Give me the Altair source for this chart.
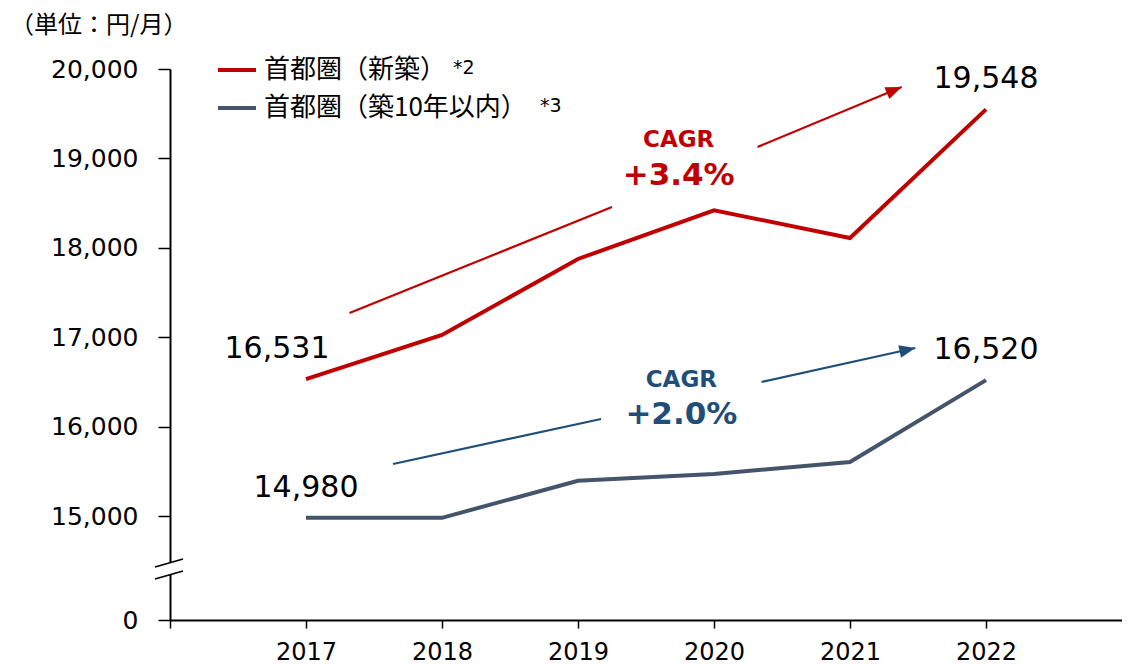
import math
import altair as alt
import pandas as pd

# ---------------- data ----------------
years = [2017, 2018, 2019, 2020, 2021, 2022]
new_build = [16531, 17025, 17875, 18420, 18110, 19548]
within_10y = [14980, 14980, 15395, 15470, 15605, 16520]
series = ["首都圏（新築）", "首都圏（築10年以内）"]
notes = ["*2", "*3"]
line_colors = ["#C00000", "#44546A"]
accent_colors = ["#C00000", "#1F4E79"]
cagr_title = "CAGR"
cagr_values = ["+3.4%", "+2.0%"]
unit_text = "（単位：円/月）"
y_tick_values = [13837, 15000, 16000, 17000, 18000, 19000, 20000]
x_tick_values = [2016, 2017, 2018, 2019, 2020, 2021, 2022]

# CAGR arrows (start, gap start, gap end, tip) in data coordinates
arrow_x = [[2017.32, 2019.25, 2020.32, 2021.38],
           [2017.64, 2019.17, 2020.35, 2021.48]]
arrow_y = [[17271, 18456, 19128, 19799],
           [15582, 16085, 16499, 16879]]
cagr_x = [2019.74, 2019.76]
cagr_title_y = [19128, 16443]
cagr_value_y = [18702, 16029]

# ---------------- layout ----------------
W, H = 952, 551
X_DOMAIN = [2016, 2023]
Y_DOMAIN = [13837, 20000]
NUM_FONT = "DejaVu Sans"
JP_FONT = "Noto Sans CJK JP"
ARROW_PATH = "M0,0L-1,-0.4L-1,0.4Z"

xs = alt.Scale(domain=X_DOMAIN, nice=False, zero=False)
ys = alt.Scale(domain=Y_DOMAIN, nice=False, zero=False)

x_axis = alt.Axis(values=x_tick_values, format="d",
                  labelExpr="datum.value == 2016 ? '' : datum.label",
                  title=None, grid=False, domainColor="black", domainWidth=2,
                  tickColor="black", tickWidth=1.5, tickSize=8,
                  labelFont=NUM_FONT, labelFontSize=24, labelColor="black",
                  labelPadding=12, labelFlush=False, labelOverlap=False)
y_axis = alt.Axis(values=y_tick_values, format=",d",
                  labelExpr="datum.value < 14000 ? '0' : datum.label",
                  title=None, grid=False, domainColor="black", domainWidth=2,
                  tickColor="black", tickWidth=1.5, tickSize=12,
                  labelFont=NUM_FONT, labelFontSize=25, labelColor="black",
                  labelPadding=20, labelOverlap=False)


def X(field):
    return alt.X(field, scale=xs, title=None)


def Y(field):
    return alt.Y(field, scale=ys, title=None)


rows = []
for s, vals in zip(series, [new_build, within_10y]):
    for yr, v in zip(years, vals):
        rows.append({"year": yr, "value": v, "series": s})
df = pd.DataFrame(rows)

lines = alt.Chart(df).mark_line(strokeWidth=4, strokeJoin="miter").encode(
    x=alt.X("year:Q", scale=xs, axis=x_axis),
    y=alt.Y("value:Q", scale=ys, axis=y_axis),
    color=alt.Color("series:N", scale=alt.Scale(domain=series, range=line_colors), legend=None),
)

# endpoint labels
first_last = df[df["year"].isin([years[0], years[-1]])].copy()
first_last["key"] = first_last["series"] + "_" + first_last["year"].astype(str)
shift_key = series[0] + "_" + str(years[0])
label_base = alt.Chart(first_last).encode(
    x=X("year:Q"), y=Y("value:Q"),
    text=alt.Text("value:Q", format=","),
)
labels_plain = label_base.transform_filter(alt.datum.key != shift_key).mark_text(
    font=NUM_FONT, fontSize=30, color="black", align="center", baseline="alphabetic", dy=-21)
labels_shift = label_base.transform_filter(alt.datum.key == shift_key).mark_text(
    font=NUM_FONT, fontSize=30, color="black", align="center", baseline="alphabetic", dy=-21, dx=-29)

layers = [lines, labels_plain, labels_shift]

ppx = W / (X_DOMAIN[1] - X_DOMAIN[0])
ppy = H / (Y_DOMAIN[1] - Y_DOMAIN[0])

for i in range(2):
    ax, ay = arrow_x[i], arrow_y[i]
    c = accent_colors[i]
    seg = pd.DataFrame({"x": [ax[0], ax[2]], "y": [ay[0], ay[2]],
                        "x2": [ax[1], ax[3]], "y2": [ay[1], ay[3]]})
    layers.append(alt.Chart(seg).mark_rule(color=c, strokeWidth=2.2).encode(
        x=X("x:Q"), y=Y("y:Q"), x2="x2:Q", y2="y2:Q"))
    ang = math.degrees(math.atan2(-(ay[3] - ay[2]) * ppy, (ax[3] - ax[2]) * ppx)) % 360
    tip = pd.DataFrame({"x": [ax[3]], "y": [ay[3]]})
    layers.append(alt.Chart(tip).mark_point(shape=ARROW_PATH, filled=True, size=1024,
                                            opacity=1, color=c, strokeWidth=0, angle=ang).encode(
        x=X("x:Q"), y=Y("y:Q")))
    t = pd.DataFrame({"x": [cagr_x[i], cagr_x[i]], "y": [cagr_title_y[i], cagr_value_y[i]],
                      "t": [cagr_title, cagr_values[i]], "k": ["title", "value"]})
    tb = alt.Chart(t).encode(x=X("x:Q"), y=Y("y:Q"), text="t:N")
    layers.append(tb.transform_filter(alt.datum.k == "title").mark_text(
        font=NUM_FONT, fontWeight="bold", fontSize=23, color=c, align="center", baseline="alphabetic"))
    layers.append(tb.transform_filter(alt.datum.k == "value").mark_text(
        font=NUM_FONT, fontWeight="bold", fontSize=31, color=c, align="center", baseline="alphabetic"))

# legend (manual)
legend_y = [1, 39]
note_x = [283, 370]
for i in range(2):
    one = pd.DataFrame({"t": [series[i]], "n": [notes[i]]})
    layers.append(alt.Chart(one).mark_rule(color=line_colors[i], strokeWidth=4).encode(
        x=alt.value(48), x2=alt.value(86), y=alt.value(legend_y[i])))
    layers.append(alt.Chart(one).mark_text(font=JP_FONT, fontSize=26, color="black",
                                           align="left", baseline="middle").encode(
        x=alt.value(94), y=alt.value(legend_y[i]), text="t:N"))
    layers.append(alt.Chart(one).mark_text(font=NUM_FONT, fontSize=19, color="black",
                                           align="left", baseline="middle").encode(
        x=alt.value(note_x[i]), y=alt.value(legend_y[i] - 2), text="n:N"))

# unit label
unit_df = pd.DataFrame({"t": [unit_text]})
layers.append(alt.Chart(unit_df).mark_text(font=JP_FONT, fontSize=24, color="black",
                                           align="left", baseline="middle").encode(
    x=alt.value(-160), y=alt.value(-43), text="t:N"))

# axis break
brk = pd.DataFrame({"a": [0]})
layers.append(alt.Chart(brk).mark_rule(color="white", strokeWidth=8).encode(
    x=alt.value(0), y=alt.value(494), y2=alt.value(506)))
layers.append(alt.Chart(brk).mark_rule(color="black", strokeWidth=1.6).encode(
    x=alt.value(-15), x2=alt.value(13), y=alt.value(498), y2=alt.value(490)))
layers.append(alt.Chart(brk).mark_rule(color="black", strokeWidth=1.6).encode(
    x=alt.value(-15), x2=alt.value(13), y=alt.value(510), y2=alt.value(502)))

chart = alt.layer(*layers).properties(
    width=W, height=H,
    padding={"left": 162, "top": 61, "right": 0, "bottom": 44},
    autosize=alt.AutoSizeParams(type="none"),
    background="white",
).configure_view(stroke=None)

chart.save("out.html", embed_options={"renderer": "svg", "actions": False})
